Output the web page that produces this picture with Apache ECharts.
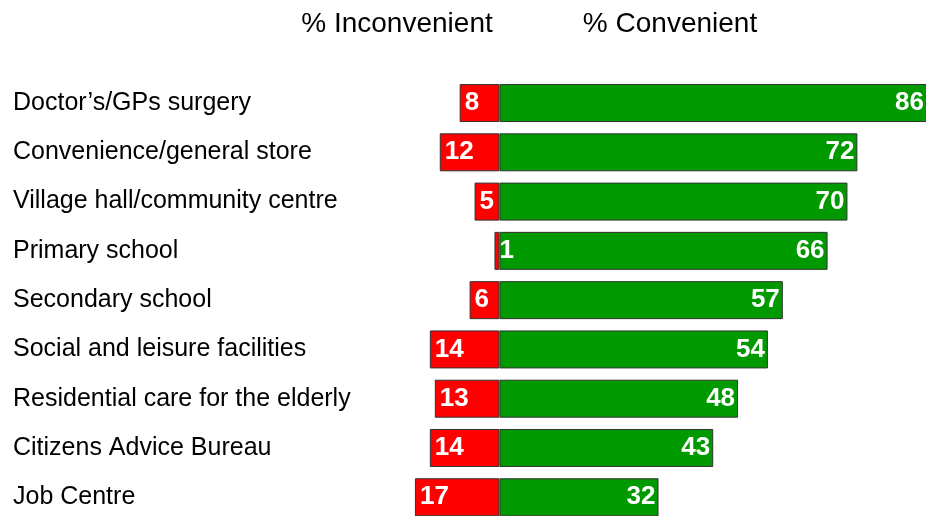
<!DOCTYPE html>
<html>
<head>
<meta charset="utf-8">
<script src="https://cdn.jsdelivr.net/npm/echarts@6/dist/echarts.min.js"></script>
<style>
  html, body { margin: 0; padding: 0; background: #fff; }
  #chart { width: 926px; height: 516px; }
</style>
</head>
<body>
<div id="chart"></div>
<script>
  // facilities, top to bottom
  var categories = [
    'Doctor\u2019s/GPs surgery',
    'Convenience/general store',
    'Village hall/community centre',
    'Primary school',
    'Secondary school',
    'Social and leisure facilities',
    'Residential care for the elderly',
    'Citizens Advice Bureau',
    'Job Centre'
  ];
  var inconvenient = [8, 12, 5, 1, 6, 14, 13, 14, 17];
  var convenient = [86, 72, 70, 66, 57, 54, 48, 43, 32];

  var font = '"Liberation Sans", Arial, sans-serif';

  var chart = echarts.init(document.getElementById('chart'));
  chart.setOption({
    animation: false,
    backgroundColor: '#fff',
    graphic: [
      { type: 'text', x: 397, y: 24, style: { text: '% Inconvenient', font: '28px ' + font, fill: '#000', textAlign: 'center', textVerticalAlign: 'middle' } },
      { type: 'text', x: 670, y: 24, style: { text: '% Convenient', font: '28px ' + font, fill: '#000', textAlign: 'center', textVerticalAlign: 'middle' } }
    ],
    grid: { left: 400, right: -1, top: 78.4, bottom: -5.9, outerBoundsMode: 'none' },
    xAxis: {
      type: 'value',
      min: -20,
      max: 86,
      show: false
    },
    yAxis: {
      type: 'category',
      data: categories,
      inverse: true,
      axisLine: { show: false },
      axisTick: { show: false },
      splitLine: { show: false },
      axisLabel: {
        align: 'left',
        margin: 387,
        fontSize: 25,
        fontFamily: font,
        color: '#000'
      }
    },
    series: [
      {
        name: 'Inconvenient',
        type: 'bar',
        stack: 'all',
        barWidth: 38,
        data: inconvenient.map(function (v) { return -v; }),
        itemStyle: { color: '#ff0000', borderColor: '#333', borderWidth: 1 },
        label: {
          show: true,
          position: 'insideLeft',
          distance: 5,
          color: '#fff',
          fontSize: 26,
          fontWeight: 'bold',
          fontFamily: font,
          formatter: function (p) { return Math.abs(p.value); }
        }
      },
      {
        name: 'Convenient',
        type: 'bar',
        stack: 'all',
        barWidth: 38,
        data: convenient,
        itemStyle: { color: '#009900', borderColor: '#333', borderWidth: 1 },
        label: {
          show: true,
          position: 'insideRight',
          distance: 3,
          color: '#fff',
          fontSize: 26,
          fontWeight: 'bold',
          fontFamily: font
        }
      }
    ]
  });
</script>
</body>
</html>
